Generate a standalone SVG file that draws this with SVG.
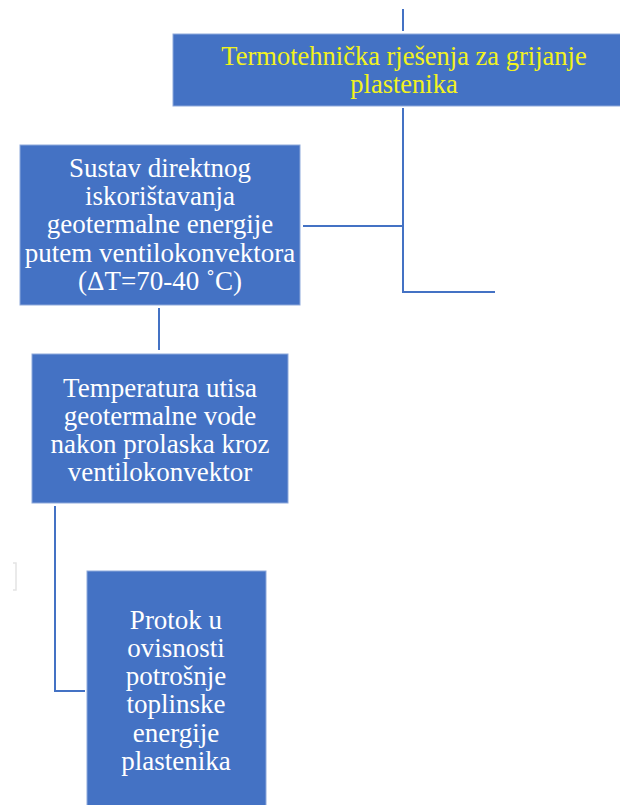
<svg xmlns="http://www.w3.org/2000/svg" width="620" height="805" viewBox="0 0 620 805">
<style>
.box{fill:#4472C4;stroke:#8EA9DB;stroke-width:1}
.t{font-family:"Liberation Serif","Times New Roman",serif;font-size:27px;fill:#FFFFFF;text-anchor:middle}
.y{fill:#F2F21E;font-size:26.5px}
.c{fill:none;stroke:#4472C4;stroke-width:2}
</style>
<rect width="620" height="805" fill="#FFFFFF"/>
<g id="connectors">
<path class="c" d="M403 9V31"/>
<path class="c" d="M403 108V292H495"/>
<path class="c" d="M303 226H403"/>
<path class="c" d="M159 308V350"/>
<path class="c" d="M55 506V691H85"/>
</g>
<path d="M13 563H16V590H13" fill="none" stroke="#E4E4E4" stroke-width="1.5"/>
<g id="n1">
<rect class="box" x="173" y="34" width="460" height="72"/>
<text class="t y" x="404" y="65">Termotehnička rješenja za grijanje</text>
<text class="t y" x="404" y="93">plastenika</text>
</g>
<g id="n2">
<rect class="box" x="20" y="145" width="280" height="160"/>
<text class="t" x="160" y="177">Sustav direktnog</text>
<text class="t" x="160" y="205">iskorištavanja</text>
<text class="t" x="160" y="233">geotermalne energije</text>
<text class="t" x="160" y="262">putem ventilokonvektora</text>
<text class="t" x="160" y="290">(ΔT=70-40 ˚C)</text>
</g>
<g id="n3">
<rect class="box" x="32" y="354" width="256" height="149"/>
<text class="t" x="160" y="397">Temperatura utisa</text>
<text class="t" x="160" y="425">geotermalne vode</text>
<text class="t" x="160" y="453">nakon prolaska kroz</text>
<text class="t" x="160" y="481">ventilokonvektor</text>
</g>
<g id="n4">
<rect class="box" x="87" y="571" width="179" height="240"/>
<text class="t" x="176" y="629">Protok u</text>
<text class="t" x="176" y="657">ovisnosti</text>
<text class="t" x="176" y="685">potrošnje</text>
<text class="t" x="176" y="713">toplinske</text>
<text class="t" x="176" y="742">energije</text>
<text class="t" x="176" y="770">plastenika</text>
</g>
</svg>
